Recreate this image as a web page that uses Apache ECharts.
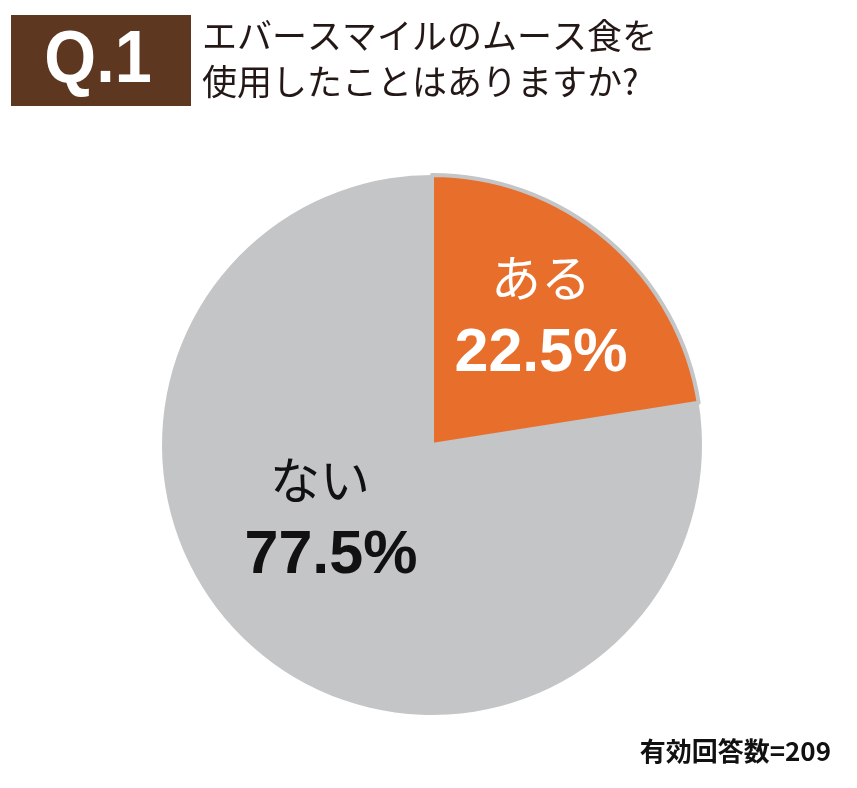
<!DOCTYPE html>
<html>
<head>
<meta charset="utf-8">
<script src="https://cdn.jsdelivr.net/npm/echarts@6/dist/echarts.min.js"></script>
<style>
  html, body { margin: 0; padding: 0; background: #fff; }
  #chart { width: 857px; height: 788px; }
</style>
</head>
<body>
<div id="chart"></div>
<script>
// answers and shares (%)
var answers = ['ある', 'ない'];
var shares = [22.5, 77.5];
var sliceColors = ['#E86E2C', '#C4C5C7'];
var labelColors = ['#ffffff', '#111111'];

var questionNo = 'Q.1';
var questionLines = ['エバースマイルのムース食を', '使用したことはありますか?'];
var footNote = '有効回答数=209';

// where each slice's label block sits (px)
var labelXY = [[541, 316], [331, 518]];

var chart = echarts.init(document.getElementById('chart'));

var pieData = [];
for (var i = 0; i < answers.length; i++) {
  pieData.push({
    name: answers[i],
    value: shares[i],
    itemStyle: { color: sliceColors[i] },
    label: {
      rich: {
        n: {
          fontSize: 50, fontFamily: 'Noto Sans CJK JP', color: labelColors[i],
          lineHeight: 76, padding: i == 1 ? [0, 22, 0, 0] : [0, 0, 0, 0]
        },
        p: {
          fontSize: 61, fontWeight: 'bold', fontFamily: 'Liberation Sans',
          color: labelColors[i], lineHeight: 76
        }
      }
    }
  });
}

var option = {
  animation: false,
  backgroundColor: '#fff',
  graphic: [
    {
      type: 'rect', left: 11, top: 15,
      shape: { width: 180, height: 91 },
      style: { fill: '#5D3720' }
    },
    {
      type: 'text', x: 98, y: 62, scaleX: 0.9,
      style: {
        text: questionNo, fill: '#fff', fontSize: 74, fontWeight: 'bold',
        fontFamily: 'Liberation Sans', align: 'center', verticalAlign: 'middle'
      }
    },
    {
      type: 'text', x: 202, y: 36,
      style: {
        text: questionLines[0], fill: '#231815', fontSize: 35,
        fontFamily: 'Noto Sans CJK JP', align: 'left', verticalAlign: 'middle'
      }
    },
    {
      type: 'text', x: 202, y: 82,
      style: {
        text: questionLines[1], fill: '#231815', fontSize: 35,
        fontFamily: 'Noto Sans CJK JP', align: 'left', verticalAlign: 'middle'
      }
    },
    {
      type: 'text', x: 831, y: 751,
      style: {
        text: footNote, fill: '#111', fontSize: 26, fontWeight: 'bold',
        fontFamily: 'Noto Sans CJK JP', align: 'right', verticalAlign: 'middle'
      }
    }
  ],
  series: [{
    type: 'pie',
    center: [432, 445],
    radius: 270,
    startAngle: 90,
    clockwise: true,
    silent: true,
    avoidLabelOverlap: false,
    itemStyle: { borderColor: '#C4C5C7', borderWidth: 0 },
    label: {
      show: true,
      position: 'inside',
      formatter: function (p) {
        return '{n|' + p.name + '}\n{p|' + p.value + '%}';
      }
    },
    labelLine: { show: false },
    labelLayout: function (params) {
      var xy = labelXY[params.dataIndex];
      return { x: xy[0], y: xy[1], align: 'center', verticalAlign: 'middle' };
    },
    data: pieData
  }]
};

// thin grey rim around the orange slice, as in the print
option.series[0].data[0].itemStyle.borderColor = sliceColors[1];
option.series[0].data[0].itemStyle.borderWidth = 4;

chart.setOption(option);
</script>
</body>
</html>
